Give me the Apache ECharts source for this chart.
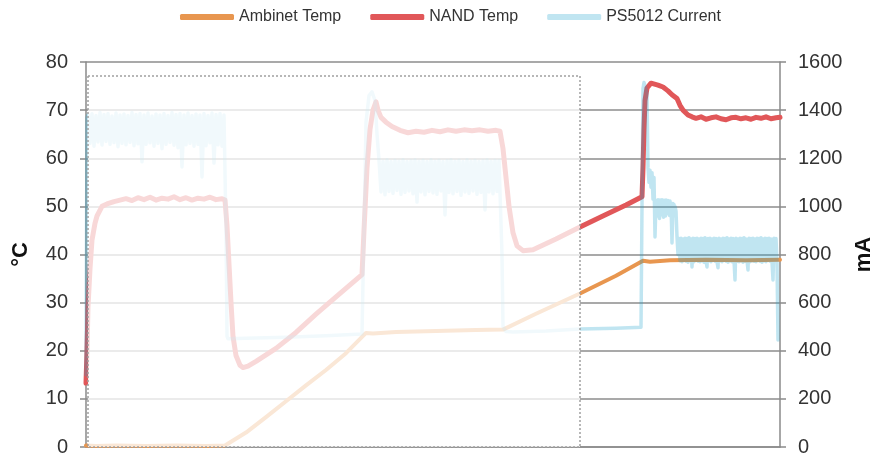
<!DOCTYPE html>
<html>
<head>
<meta charset="utf-8">
<script src="https://cdn.jsdelivr.net/npm/echarts@6/dist/echarts.min.js"></script>
<style>html,body{margin:0;padding:0;background:#fff}#chart{width:881px;height:455px}</style>
</head>
<body>
<div id="chart"></div>
<script>
// x = elapsed time (arbitrary units, 0..694)
const seriesNames = ['Ambinet Temp', 'NAND Temp', 'PS5012 Current'];
const tempTicks = [0, 80, 10];      // min, max, interval (°C)
const currentTicks = [0, 1600, 200]; // min, max, interval (mA)

const ambientTemp = [
  [0,0.3],[10,0.2],[30,0.3],[60,0.2],[90,0.3],[120,0.2],[139,0.3],[160,3.0],[180,6.2],[200,9.5],
  [220,12.8],[240,16.0],[260,19.5],[280,23.7],[287,23.6],[310,23.9],[350,24.1],[390,24.3],[417,24.4],
  [450,27.7],[494,31.9],[530,35.6],[557,38.7],[564,38.5],[584,38.8],[620,38.9],[660,38.8],[694,38.9]
];

const nandTemp = [
  [0,13.3],[1,20],[2,29],[4,37],[6,43],[9,46.5],[11,48],[16,50],[21,50.5],[28,51],[34,51.3],
  [40,51.6],[46,51.2],[52,51.8],[58,51.4],[64,51.9],[70,51.3],[76,51.7],[82,51.5],[88,52],[94,51.4],
  [100,51.8],[106,51.3],[112,51.7],[118,51.5],[124,51.9],[130,51.4],[136,51.6],[139,51.3],
  [141,46],[143,38],[145,30],[147,23],[150,19],[154,17],[157,16.5],[162,16.8],[170,17.8],
  [190,20.5],[210,23.8],[230,27.6],[250,31.2],[276,35.8],
  [278,45],[281,58],[284,66],[287,70],[290,71.7],[292,70],[295,68.5],[300,67.5],[306,66.6],[314,65.8],
  [322,65.3],[330,65.6],[338,65.4],[346,65.8],[354,65.5],[362,65.9],[370,65.6],[378,65.9],[386,65.7],
  [394,65.9],[402,65.6],[410,65.8],[414,65.6],
  [417,62],[420,56],[423,50],[427,44.5],[431,41.8],[437,40.8],[447,41],[470,43.2],[494,45.7],
  [520,48.3],[540,50.3],[556,52],[557,58],[558,66],[559,72],[561,74.6],[565,75.6],[567,75.8],
  [572,75.2],[577,74.8],[582,74],[586,73.2],[591,72.4],[594,71],[597,70],[602,69],[606,68.6],[610,68.3],
  [615,68.6],[620,68.1],[625,68.4],[630,68.6],[635,68.2],[640,68.0],[645,68.4],[650,68.5],[655,68.2],
  [660,68.4],[665,68.1],[670,68.5],[675,68.3],[680,68.6],[685,68.2],[690,68.4],[694,68.5]
];

const currentStart = [[0,300],[1,1370]];
const currentBand1 = [
  [2,1380],[4,1262],[6,1385],[8,1250],[10,1378],[12,1268],[14,1390],[16,1255],[18,1382],[20,1270],
  [22,1386],[24,1258],[26,1376],[28,1265],[30,1388],[32,1248],[34,1380],[36,1262],[38,1384],[40,1256],
  [42,1378],[44,1266],[46,1390],[48,1252],[50,1382],[52,1260],[54,1386],[56,1185],[58,1380],[60,1258],
  [62,1388],[64,1264],[66,1376],[68,1250],[70,1384],[72,1262],[74,1380],[76,1240],[78,1386],[80,1258],
  [82,1378],[84,1266],[86,1390],[88,1254],[90,1382],[92,1244],[94,1386],[96,1164],[98,1380],[100,1256],
  [102,1388],[104,1262],[106,1378],[108,1250],[110,1384],[112,1258],[114,1380],[116,1122],[118,1386],
  [120,1252],[122,1378],[124,1264],[126,1388],[128,1180],[130,1382],[132,1256],[134,1386],[136,1250],[138,1380]
];
const currentLow1 = [
  [139,1380],[140,900],[141,460],[142,450],[160,452],[200,456],[240,462],[276,470],
  [278,900],[280,1350],[283,1460],[286,1476],[289,1440],[291,1300]
];
const currentBand2 = [
  [293,1192],[295,1060],[297,1188],[299,1048],[301,1194],[303,1062],[305,1186],[307,1054],[309,1192],
  [311,1066],[313,1188],[315,1050],[317,1194],[319,1058],[321,1186],[323,1064],[325,1190],[327,1052],
  [329,1194],[331,1018],[333,1188],[335,1060],[337,1192],[339,1048],[341,1186],[343,1062],[345,1194],
  [347,1056],[349,1188],[351,1050],[353,1192],[355,1064],[357,1186],[359,964],[361,1190],[363,1058],
  [365,1194],[367,1052],[369,1188],[371,1062],[373,1192],[375,1046],[377,1186],[379,1060],[381,1194],
  [383,1054],[385,1188],[387,1064],[389,1192],[391,1050],[393,1186],[395,1058],[397,1190],[399,985],
  [401,1194],[403,1060],[405,1188],[407,1052],[409,1192],[411,1062],[413,1190]
];
const currentLow2 = [
  [415,1190],[416,800],[417,500],[420,480],[427,478],[460,482],[494,490],[530,494],[555,498],
  [556,1000],[557,1490],[558,1515],[559,1508],[560,1512],[561,1470],[562,1160],[563,1100],[564,1150],
  [565,1080],[566,1140],[567,1030],[568,1120],[569,873],[570,1020],[570.5,975],[571,1025],[571.5,960],
  [572,1028],[572.5,975],[573,1022],[573.5,950],[574,1026],[574.5,978],[575,1020],[575.5,965],[576,1028],
  [576.5,980],[577,1018],[577.5,955],[578,1025],[578.5,985],[579,1020],[579.5,960],[580,1026],[580.5,975],
  [581,1018],[581.5,970],[582,1024],[582.5,980],[583,1016],[583.5,962],[584,1022],[584.5,975],[585,1014],
  [586,848],[587,1012],[587.5,960],[588,1008],[588.5,970],[589,1000],[590,980],
  [591,873],[592,800]
];
const currentBand3 = [
  [593,866],[594,774],[595,868],[596,770],[597,864],[598,776],[599,868],[600,772],[601,866],[602,768],
  [603,870],[604,774],[605,864],[606,748],[607,868],[608,770],[609,866],[610,776],[611,868],[612,772],
  [613,864],[614,770],[615,868],[616,774],[617,866],[618,768],[619,870],[620,772],[621,748],[622,866],
  [623,774],[624,868],[625,770],[626,864],[627,776],[628,868],[629,772],[630,866],[631,770],[632,745],
  [633,868],[634,774],[635,864],[636,770],[637,868],[638,776],[639,866],[640,772],[641,870],[642,768],
  [643,864],[644,774],[645,868],[646,770],[647,866],[648,776],[649,694],[650,868],[651,772],[652,864],
  [653,770],[654,868],[655,774],[656,866],[657,768],[658,870],[659,772],[660,864],[661,776],[662,736],
  [663,868],[664,770],[665,866],[666,774],[667,868],[668,772],[669,864],[670,770],[671,868],[672,776],
  [673,866],[674,772],[675,870],[676,768],[677,864],[678,774],[679,868],[680,770],[681,866],[682,776],
  [683,868],[684,772],[685,864],[686,770],[687,694],[688,868],[689,774],[690,866],[691,770],[692,445]
];
const psCurrent = [].concat(currentStart, currentBand1, currentLow1, currentBand2, currentLow2, currentBand3);

// faded (de-emphasised) time window: [xStart, yBottom, xEnd, yTop] in axis units
const fadedWindow = [[2, 0, 494, 77.1]];

const FONT = "'Liberation Sans', Arial, sans-serif";
const chart = echarts.init(document.getElementById('chart'), null, {renderer: 'canvas'});
const axisGray = '#8a8a8a';

chart.setOption({
  animation: false,
  backgroundColor: '#ffffff',
  textStyle: {fontFamily: FONT},
  legend: {
    data: seriesNames,
    left: 175, top: 4,
    icon: 'roundRect',
    itemWidth: 54, itemHeight: 6, itemGap: 29,
    textStyle: {fontSize: 16, color: '#333', fontFamily: FONT}
  },
  grid: {left: 86, right: 101, top: 62, bottom: 8, containLabel: false, outerBoundsMode: 'none'},
  xAxis: {
    type: 'value', min: 0, max: 694,
    axisLabel: {show: false}, axisTick: {show: false}, splitLine: {show: false},
    axisLine: {show: true, lineStyle: {color: axisGray, width: 1.5}}
  },
  yAxis: [
    {
      type: 'value', min: tempTicks[0], max: tempTicks[1], interval: tempTicks[2],
      name: '°C', nameLocation: 'middle', nameRotate: 90, nameGap: 54,
      nameTextStyle: {fontSize: 22, fontWeight: 'bold', color: '#111', fontFamily: FONT},
      axisLine: {show: true, lineStyle: {color: axisGray, width: 1.5}},
      axisTick: {show: true, length: 6, lineStyle: {color: axisGray, width: 1.5}},
      axisLabel: {fontSize: 20, color: '#333', margin: 18, fontFamily: FONT},
      splitLine: {show: true, lineStyle: {color: '#8c8c8c', width: 1.5}}
    },
    {
      type: 'value', min: currentTicks[0], max: currentTicks[1], interval: currentTicks[2],
      position: 'right',
      name: 'mA', nameLocation: 'middle', nameRotate: 90, nameGap: 73,
      nameTextStyle: {fontSize: 22, fontWeight: 'bold', color: '#111', fontFamily: FONT},
      axisLine: {show: true, lineStyle: {color: axisGray, width: 1.5}},
      axisTick: {show: true, length: 6, lineStyle: {color: axisGray, width: 1.5}},
      axisLabel: {fontSize: 20, color: '#333', margin: 18, fontFamily: FONT,
                  formatter: function (v) { return String(v); }},
      splitLine: {show: false}
    }
  ],
  series: [
    {
      name: seriesNames[0], type: 'line', yAxisIndex: 0, data: ambientTemp,
      showSymbol: false, symbol: 'none', z: 2,
      itemStyle: {color: '#e8964f'},
      lineStyle: {color: '#e8964f', width: 4, join: 'round', cap: 'round'}
    },
    {
      name: seriesNames[1], type: 'line', yAxisIndex: 0, data: nandTemp,
      showSymbol: false, symbol: 'none', z: 3,
      itemStyle: {color: '#e15759'},
      lineStyle: {color: '#e15759', width: 5, join: 'round', cap: 'round'}
    },
    {
      name: seriesNames[2], type: 'line', yAxisIndex: 1, data: psCurrent,
      showSymbol: false, symbol: 'none', z: 4,
      itemStyle: {color: 'rgba(30,160,205,0.28)'},
      lineStyle: {color: 'rgba(30,160,205,0.28)', width: 3.5, join: 'round', cap: 'round'}
    },
    {
      type: 'custom', yAxisIndex: 0, z: 10, silent: true,
      data: fadedWindow,
      encode: {x: [0, 2], y: [1, 3]},
      renderItem: function (params, api) {
        const p0 = api.coord([api.value(0), api.value(3)]);
        const p1 = api.coord([api.value(2), api.value(1)]);
        return {
          type: 'rect',
          shape: {x: p0[0], y: p0[1], width: p1[0] - p0[0], height: p1[1] - p0[1]},
          style: {fill: 'rgba(255,255,255,0.77)', stroke: '#a0a0a0', lineWidth: 1.5, lineDash: [2, 2]}
        };
      }
    }
  ]
});
</script>
</body>
</html>
